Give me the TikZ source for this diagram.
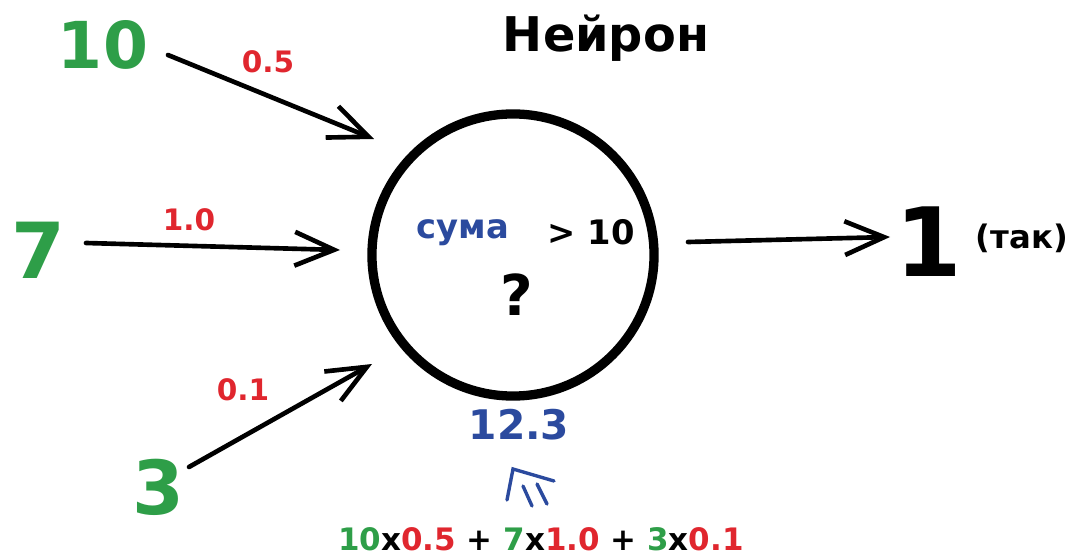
\documentclass[tikz,border=0pt]{standalone}
\usepackage{fontspec}
\setmainfont{DejaVu Sans}
\usepackage{xcolor}
\usepackage{tikz}
\usetikzlibrary{positioning, arrows.meta}
\definecolor{ingreen}{HTML}{2E9E48}
\definecolor{wred}{HTML}{E0262E}
\definecolor{sumblue}{HTML}{2B4A9E}
\newcommand{\fsz}[1]{\fontsize{#1}{1.2\dimexpr#1\relax}\selectfont\bfseries}

\begin{document}
\begin{tikzpicture}[x=0.025cm, y=-0.025cm,
    inval/.style={text=ingreen, inner sep=0pt},
    weight/.style={text=wred, inner sep=0pt, font=\fsz{21pt}},
    sketcharrow/.style={line width=3.3pt, line cap=round,
      -{Straight Barb[length=28pt, width=24pt, line width=3.3pt]}}]
    \useasboundingbox[fill=white] (0,0) rectangle (1071,557);

    % neuron
    \node[circle, draw, line width=6.6pt, minimum size=7.05cm] (neuron) at (513,255) {};
    \node[font=\fsz{34pt}, inner sep=0pt] (title) at (606,38) {Нейрон};
    \node[text=sumblue, font=\fsz{24pt}, inner sep=0pt] (sum) at (463,233) {сума};
    \node[font=\fsz{24pt}, inner sep=0pt] (thr) at (591,232) {> 10};
    \node[font=\fsz{40pt}, inner sep=0pt] (q) at (517,295) {?};

    % inputs and weights
    \node[inval, font=\fsz{46pt}] (in10) at (103,45) {10};
    \node[inval, font=\fsz{55pt}] (in7) at (38,250) {7};
    \node[inval, font=\fsz{53pt}] (in3) at (158,487) {3};
    \node[weight] (w1) at (268,62) {0.5};
    \node[weight] (w2) at (189,220) {1.0};
    \node[weight] (w3) at (243,390) {0.1};

    \coordinate (s1) at (168,55);  \coordinate (e1) at (374,139);
    \coordinate (s2) at (86,243);  \coordinate (e2) at (340,250);
    \coordinate (s3) at (189,467); \coordinate (e3) at (372,364);
    \draw[sketcharrow] (s1) -- (e1);
    \draw[sketcharrow] (s2) -- (e2);
    \draw[sketcharrow] (s3) -- (e3);

    % output
    \node[font=\fsz{68pt}, inner sep=0pt] (out) at (929,242) {1};
    \node[font=\fsz{23pt}, inner sep=0pt] (yes) at (1022,238) {(так)};
    \coordinate (so) at (688,242); \coordinate (eo) at (890,237);
    \draw[sketcharrow] (so) -- (eo);

    % weighted sum
    \node[text=sumblue, font=\fsz{29pt}, inner sep=0pt] (total) at (519,425) {12.3};
    \node[font=\fsz{22pt}, inner sep=0pt] (formula) at (541,539) {%
      \textcolor{ingreen}{10}x\textcolor{wred}{0.5} + \textcolor{ingreen}{7}x\textcolor{wred}{1.0} + \textcolor{ingreen}{3}x\textcolor{wred}{0.1}};
    \coordinate (ef) at (513,469);
    \draw[sumblue, line width=2.4pt, line cap=round]
      ([shift={(-6,31)}]ef) -- (ef) -- ([shift={(41,12)}]ef)
      ([shift={(10,17)}]ef) -- ([shift={(19,37)}]ef)
      ([shift={(24,15)}]ef) -- ([shift={(34,35)}]ef);
  \end{tikzpicture}
\end{document}
